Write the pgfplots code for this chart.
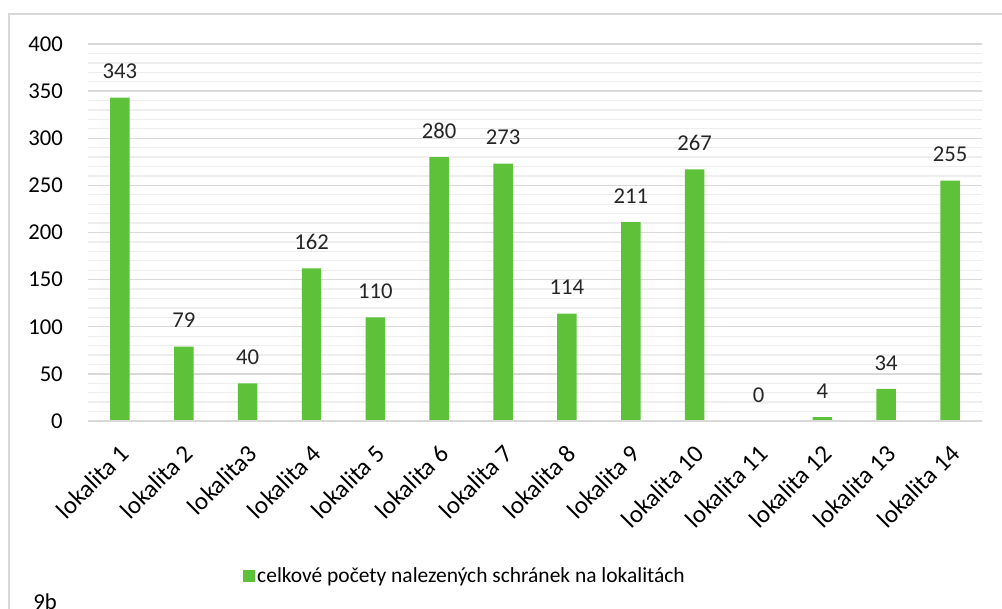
\documentclass[border=0pt]{standalone}
\usepackage{fontspec}
\setmainfont{Carlito}
\usepackage{pgfplots}
\pgfplotsset{compat=1.18}
\definecolor{bargreen}{RGB}{94,193,58}
\definecolor{majgrid}{RGB}{217,217,217}
\definecolor{mingrid}{RGB}{238,238,238}
\newcommand{\cf}{\fontsize{17}{20}\selectfont}
\newcommand{\xf}{\fontsize{18.7}{22}\selectfont}
\newcommand{\lf}{\fontsize{16.1}{19}\selectfont}
\begin{document}
\begin{tikzpicture}
\useasboundingbox (0,0) rectangle (751.5pt,456.75pt);
\clip (0,0) rectangle (751.5pt,456.75pt);
\draw[color=majgrid, line width=1.2pt] (6.75pt,-20pt) rectangle (790pt,446.25pt);
\begin{axis}[
  at={(66pt,141pt)}, anchor=south west,
  width=670.5pt, height=282.75pt, scale only axis,
  xmin=-0.5, xmax=13.5, ymin=0, ymax=400,
  axis line style={draw=none},
  tick style={draw=none},
  ytick={0,50,...,400},
  minor ytick={10,20,...,390},
  ymajorgrids, yminorgrids,
  major grid style={draw=majgrid, line width=1pt},
  minor grid style={draw=mingrid, line width=1pt},
  xtick={0,...,13},
  xticklabels={lokalita 1,lokalita 2,lokalita3,lokalita 4,lokalita 5,lokalita 6,lokalita 7,lokalita 8,lokalita 9,lokalita 10,lokalita 11,lokalita 12,lokalita 13,lokalita 14},
  xticklabel style={font=\xf, anchor=north east, inner sep=0pt, yshift=-16.5pt, xshift=-1pt, rotate=45},
  yticklabel style={font=\cf, anchor=east, inner sep=0pt, xshift=-18.75pt},
  /pgf/number format/assume math mode=true,
  legend style={draw=none, at={(0.4217,-0.411)}, anchor=center, font=\lf, fill=none},
  legend image code/.code={\fill[bargreen] (0pt,-4.5pt) rectangle (9pt,4.5pt);},
]
\addplot[ybar, bar width=14.6pt, fill=bargreen, draw=none,
  nodes near coords,
  every node near coord/.append style={font=\cf, anchor=center, yshift=19.5pt, text=black!85}]
  coordinates {(0,343) (1,79) (2,40) (3,162) (4,110) (5,280) (6,273) (7,114) (8,211) (9,267) (10,0) (11,4) (12,34) (13,255)};
\addlegendentry{celkové počety nalezených schránek na lokalitách}
\draw[majgrid, line width=1.5pt] (axis cs:-0.5,0) -- (axis cs:13.5,0);
\end{axis}
\node[anchor=north west, inner sep=0pt, font=\cf] at (24.75pt,12pt) {9b};
\end{tikzpicture}
\end{document}
